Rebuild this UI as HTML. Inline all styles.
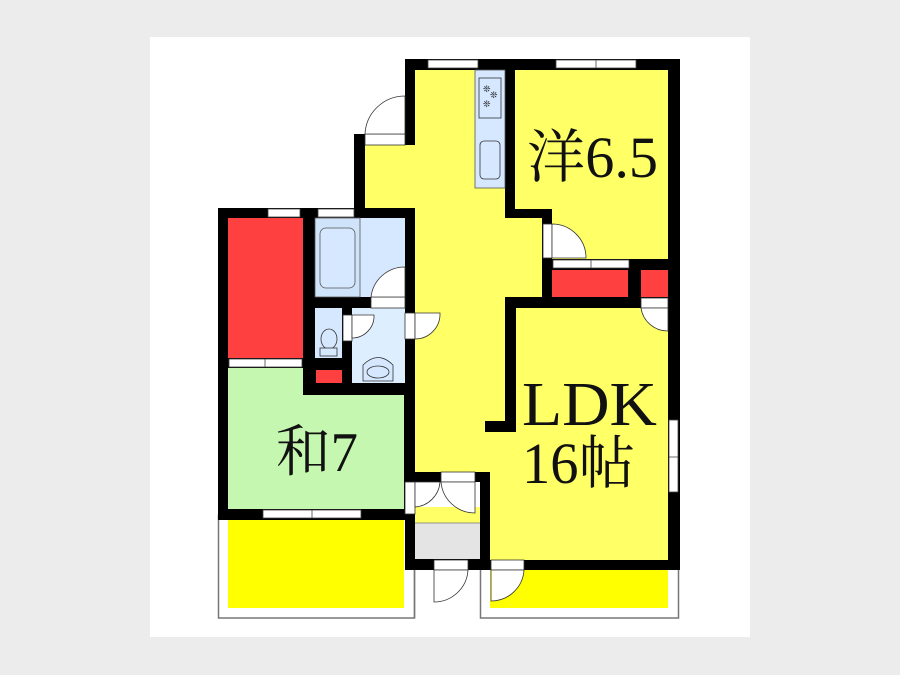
<!DOCTYPE html>
<html><head><meta charset="utf-8"><style>
html,body{margin:0;padding:0;background:#ececec;}
svg{display:block}
text{font-family:"Liberation Serif","Noto Serif CJK SC",serif;fill:#111}
</style></head><body>
<svg width="900" height="675" viewBox="0 0 900 675" xmlns="http://www.w3.org/2000/svg">
<rect x="0" y="0" width="900" height="675" fill="#ececec"/>
<rect x="150" y="37" width="600" height="600" fill="#fff"/>

<rect x="218.5" y="515" width="196" height="103" fill="#fff" stroke="#777" stroke-width="1.5"/>
<rect x="480.5" y="565" width="198" height="53" fill="#fff" stroke="#777" stroke-width="1.5"/>
<line x1="414.5" y1="565" x2="414.5" y2="618" stroke="#777" stroke-width="1.5"/>

<polygon points="405,59 680,59 680,570 405,570 405,145 354,145 354,134 405,134" fill="#000"/>
<rect x="218" y="208" width="197" height="312" fill="#000"/>
<rect x="354" y="134" width="61" height="84" fill="#000"/>

<rect x="415" y="70" width="90" height="402" fill="#ffff66"/>
<rect x="365" y="145" width="50" height="63" fill="#ffff66"/>
<rect x="505" y="218" width="37" height="79" fill="#ffff66"/>
<rect x="485" y="421" width="20" height="11" fill="#000"/>

<rect x="515" y="70" width="153" height="139" fill="#ffff66"/>
<rect x="552" y="209" width="116" height="50" fill="#ffff66"/>
<rect x="552" y="270" width="76" height="27" fill="#ff4040"/>
<rect x="641" y="270" width="27" height="27" fill="#ff4040"/>
<rect x="516" y="308" width="152" height="252" fill="#ffff66"/>
<rect x="490" y="432" width="30" height="128" fill="#ffff66"/>
<rect x="415" y="432" width="75" height="40" fill="#ffff66"/>

<rect x="475" y="70" width="30" height="118" fill="#d6e8ff" stroke="#555" stroke-width="0.8"/>
<rect x="479" y="78" width="22" height="40" fill="#d6e8ff" stroke="#333" stroke-width="0.8"/>
<text x="483" y="92" font-size="9" fill="#246">❊</text>
<text x="490" y="98" font-size="9" fill="#246">❊</text>
<text x="483" y="107" font-size="9" fill="#246">❊</text>
<rect x="480" y="141" width="20" height="38" rx="4" fill="#d6e8ff" stroke="#333" stroke-width="0.8"/>

<rect x="228" y="218" width="75" height="140" fill="#ff4040"/>
<rect x="315" y="218" width="90" height="79" fill="#d6e8ff"/>
<rect x="315" y="218" width="45" height="79" fill="#cfe3fb" stroke="#555" stroke-width="0.8"/>
<rect x="320" y="228" width="35" height="60" rx="6" fill="#d6e8ff" stroke="#555" stroke-width="0.8"/>
<rect x="315" y="308" width="27" height="50" fill="#d6e8ff"/>
<rect x="352" y="308" width="53" height="75" fill="#ddeeff"/>
<ellipse cx="329" cy="339" rx="8" ry="10" fill="#d6e8ff" stroke="#333" stroke-width="0.8"/>
<rect x="320" y="348" width="17" height="8" fill="#d6e8ff" stroke="#333" stroke-width="0.8"/>
<path d="M363,381 L363,365 Q378,350 393,365 L393,381 Z" fill="#d6e8ff" stroke="#333" stroke-width="0.8"/>
<ellipse cx="378" cy="372" rx="11" ry="6" fill="none" stroke="#333" stroke-width="0.8"/>
<rect x="316" y="370" width="26" height="13" fill="#ff4040"/>

<rect x="228" y="368" width="75" height="141" fill="#c6f7b0"/>
<rect x="228" y="395" width="176" height="114" fill="#c6f7b0"/>
<rect x="228" y="520" width="176" height="88" fill="#ffff00"/>
<rect x="490" y="570" width="178" height="38" fill="#ffff00"/>

<rect x="415" y="482" width="65" height="41" fill="#fff"/>
<rect x="415" y="507" width="65" height="16" fill="#ffff66"/>
<rect x="415" y="523" width="65" height="36" fill="#e4e4e4"/>
<line x1="415" y1="523" x2="480" y2="523" stroke="#777" stroke-width="0.8"/>

<g fill="#fff" stroke="#444" stroke-width="0.8">
<rect x="428" y="60" width="50" height="8"/>
<rect x="556" y="60" width="80" height="8"/>
<rect x="268" y="209" width="32" height="8"/>
<rect x="318" y="209" width="36" height="8"/>
<rect x="229" y="359" width="73" height="8"/>
<rect x="263" y="510" width="98" height="8"/>
<rect x="553" y="260" width="76" height="8"/>
<rect x="669" y="420" width="9" height="72"/>
</g>
<g stroke="#444" stroke-width="0.8">
<line x1="596" y1="60" x2="596" y2="68"/><line x1="312" y1="510" x2="312" y2="518"/>
<line x1="265" y1="359" x2="265" y2="367"/><line x1="591" y1="260" x2="591" y2="268"/>
<line x1="669" y1="457" x2="678" y2="457"/>
</g>

<g fill="#fff" stroke="#333" stroke-width="0.8">
<rect x="365" y="134" width="40" height="11"/>
<path d="M405,96 A40,40 0 0 0 365,134 L405,134 Z"/>
<rect x="543" y="224" width="9" height="34"/>
<path d="M552,224 A34,34 0 0 1 586,258 L552,258 Z"/>
<rect x="371" y="297" width="34" height="11"/>
<path d="M405,267 A34,34 0 0 0 371,297 L405,297 Z"/>
<rect x="343" y="315" width="9" height="26"/>
<path d="M352,315 L374,315 A22,22 0 0 1 352,338 Z"/>
<rect x="405" y="313" width="10" height="26"/>
<path d="M415,313 L440,313 A25,25 0 0 1 415,339 Z"/>
<rect x="641" y="298" width="27" height="10"/>
<path d="M668,308 L668,331 A27,27 0 0 1 641,308 Z"/>
<rect x="405" y="482" width="10" height="32"/>
<path d="M415,482 L440,482 A27,27 0 0 1 415,507 Z"/>
<rect x="441" y="472" width="34" height="10"/>
<path d="M441,482 L475,482 L475,513 A34,34 0 0 1 441,482 Z"/>
<rect x="434" y="560" width="34" height="10"/>
<path d="M434,570 L468,570 A34,34 0 0 1 434,602 Z"/>
<rect x="491" y="560" width="33" height="10"/>
<path d="M491,570 L524,570 A33,33 0 0 1 491,601 Z"/>
</g>

<text x="527" y="177" font-size="58" textLength="131" lengthAdjust="spacingAndGlyphs">洋6.5</text>
<text x="276" y="471" font-size="56" textLength="82" lengthAdjust="spacingAndGlyphs">和7</text>
<text x="522" y="425" font-size="62" textLength="135" lengthAdjust="spacingAndGlyphs">LDK</text>
<text x="522" y="483" font-size="58" textLength="113" lengthAdjust="spacingAndGlyphs">16帖</text>
</svg>
</body></html>
